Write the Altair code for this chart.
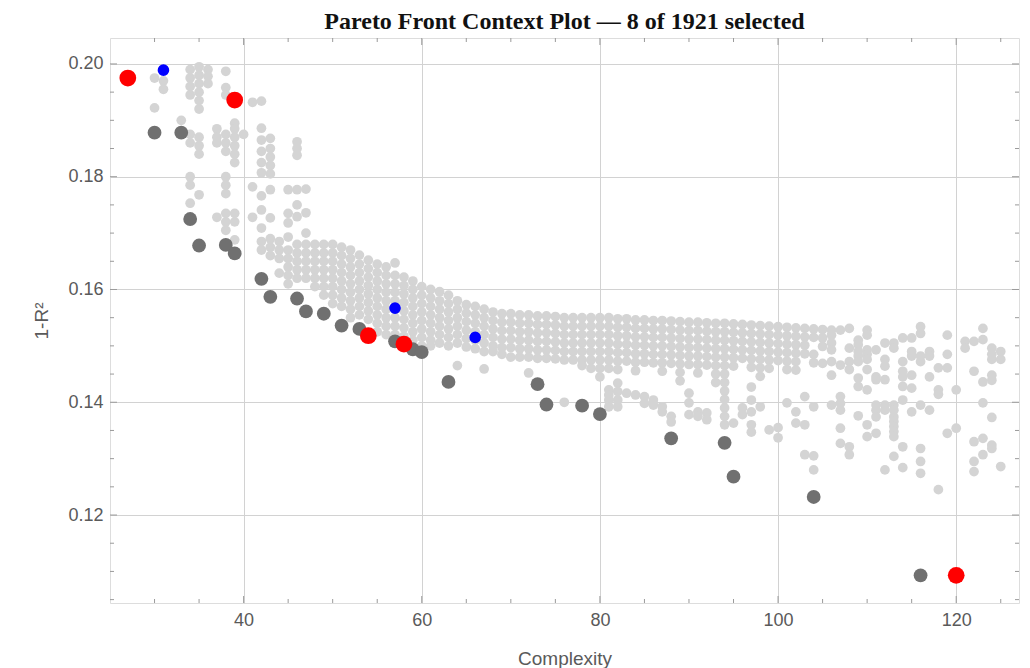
import altair as alt
import pandas as pd

TITLE = "Pareto Front Context Plot \u2014 8 of 1921 selected"

# ---- highlighted points ----
front_x = [30, 33, 34, 35, 38, 39, 42, 43, 46, 47, 49, 51, 53, 57, 59, 60, 63, 73, 74, 78, 80, 88, 94, 95, 104, 116]
front_y = [0.1878, 0.1878, 0.1725, 0.1678, 0.1679, 0.1664, 0.1619, 0.1587, 0.1584, 0.1561, 0.1557, 0.1536,
           0.1530, 0.1508, 0.1494, 0.1489, 0.1436, 0.1432, 0.1396, 0.1394, 0.1379, 0.1336, 0.1328, 0.1268,
           0.1232, 0.1093]
red_x = [27, 39, 54, 58, 120]
red_y = [0.1975, 0.1936, 0.1518, 0.1503, 0.1093]
blue_x = [31, 57, 66]
blue_y = [0.1989, 0.1567, 0.1515]

# ---- context cloud (complexity, list of 1-R^2 values) ----
cloud_left = [
    (30, [0.1975, 0.1922]),
    (31, [0.1970, 0.1955]),
    (33, [0.1900]),
    (34, [0.1990, 0.1975, 0.1960, 0.1945, 0.1875, 0.1860, 0.1800, 0.1785, 0.1753]),
    (35, [0.1995, 0.1980, 0.1965, 0.1950, 0.1935, 0.1920, 0.1870, 0.1855, 0.1840, 0.1768]),
    (36, [0.1990, 0.1978, 0.1965]),
    (37, [0.1885, 0.1870, 0.1860, 0.1728]),
    (38, [0.1987, 0.1958, 0.1945, 0.1875, 0.1860, 0.1845, 0.1800, 0.1785, 0.1770, 0.1735, 0.1720, 0.1705]),
    (39, [0.1895, 0.1885, 0.1870, 0.1855, 0.1840, 0.1825, 0.1735, 0.1720, 0.1688]),
    (40, [0.1875]),
    (41, [0.1932, 0.1782, 0.1728]),
    (42, [0.1934, 0.1886, 0.1865, 0.1845, 0.1825, 0.1807, 0.1766, 0.1741, 0.1709, 0.1685, 0.1670]),
    (43, [0.1868, 0.1850, 0.1835, 0.1820, 0.1805, 0.1777, 0.1727, 0.1690, 0.1675, 0.1660]),
    (44, [0.1685, 0.1670, 0.1655, 0.1629]),
    (45, [0.1777, 0.1735, 0.1718, 0.1693, 0.1670, 0.1655, 0.1640, 0.1625, 0.1610]),
    (46, [0.1862, 0.1850, 0.1838, 0.1777, 0.1750, 0.1729, 0.1680, 0.1665, 0.1650, 0.1635, 0.1620]),
    (47, [0.1778, 0.1736, 0.1700, 0.1680, 0.1665, 0.1650, 0.1635, 0.1620]),
    (48, [0.1680, 0.1665, 0.1650, 0.1635, 0.1620, 0.1605]),
    (49, [0.1680, 0.1665, 0.1650, 0.1635, 0.1620, 0.1605, 0.1590]),
    (50, [0.1680, 0.1665, 0.1650, 0.1635, 0.1620, 0.1605, 0.1590, 0.1575]),
    (51, [0.1675, 0.1660, 0.1645, 0.1630, 0.1615, 0.1600, 0.1585, 0.1570]),
    (52, [0.1670, 0.1655, 0.1640, 0.1625, 0.1610, 0.1595, 0.1580, 0.1565, 0.1550]),
    (53, [0.1661, 0.1645, 0.1630, 0.1615, 0.1600, 0.1585, 0.1570, 0.1555]),
    (54, [0.1652, 0.1637, 0.1622, 0.1607, 0.1592, 0.1577, 0.1562, 0.1547]),
    (55, [0.1645, 0.1630, 0.1615, 0.1600, 0.1585, 0.1570, 0.1555, 0.1540, 0.1525]),
    (56, [0.1640, 0.1625, 0.1610, 0.1595, 0.1580, 0.1565, 0.1550, 0.1535, 0.1520]),
    (57, [0.1647, 0.1625, 0.1610, 0.1595, 0.1580, 0.1565, 0.1550, 0.1535, 0.1520]),
    (58, [0.1622, 0.1607, 0.1592, 0.1577, 0.1562, 0.1547, 0.1532, 0.1517]),
    (59, [0.1615, 0.1600, 0.1585, 0.1570, 0.1555, 0.1540, 0.1525, 0.1510]),
]
cloud_mid = [
    (60, [0.1605, 0.1590, 0.1575, 0.1560, 0.1545, 0.1530, 0.1515, 0.1500]),
    (61, [0.1600, 0.1585, 0.1570, 0.1555, 0.1540, 0.1525, 0.1510, 0.1500]),
    (62, [0.1596, 0.1580, 0.1565, 0.1550, 0.1535, 0.1520, 0.1505]),
    (63, [0.1590, 0.1575, 0.1560, 0.1545, 0.1530, 0.1515, 0.1500]),
    (64, [0.1580, 0.1565, 0.1550, 0.1535, 0.1520, 0.1505, 0.1465]),
    (65, [0.1573, 0.1558, 0.1543, 0.1528, 0.1513, 0.1498]),
    (66, [0.1570, 0.1555, 0.1540, 0.1525, 0.1510, 0.1495]),
    (67, [0.1565, 0.1550, 0.1535, 0.1520, 0.1505, 0.1490, 0.1459]),
    (68, [0.1560, 0.1545, 0.1530, 0.1515, 0.1500, 0.1490]),
    (69, [0.1557, 0.1542, 0.1527, 0.1512, 0.1497, 0.1485]),
    (70, [0.1557, 0.1542, 0.1527, 0.1512, 0.1497, 0.1480]),
    (71, [0.1555, 0.1540, 0.1525, 0.1510, 0.1495, 0.1480]),
    (72, [0.1555, 0.1540, 0.1525, 0.1510, 0.1495, 0.1480, 0.1452]),
    (73, [0.1553, 0.1538, 0.1523, 0.1508, 0.1493, 0.1478]),
    (74, [0.1553, 0.1538, 0.1523, 0.1508, 0.1493, 0.1478]),
    (75, [0.1552, 0.1537, 0.1522, 0.1507, 0.1492, 0.1477]),
    (76, [0.1550, 0.1535, 0.1520, 0.1505, 0.1490, 0.1475, 0.1400]),
    (77, [0.1550, 0.1535, 0.1520, 0.1505, 0.1490, 0.1475]),
    (78, [0.1550, 0.1535, 0.1520, 0.1505, 0.1490, 0.1475, 0.1465]),
    (79, [0.1550, 0.1535, 0.1520, 0.1505, 0.1490, 0.1475, 0.1460]),
    (80, [0.1550, 0.1535, 0.1520, 0.1505, 0.1490, 0.1475, 0.1460, 0.1445]),
    (81, [0.1550, 0.1535, 0.1520, 0.1505, 0.1490, 0.1475, 0.1460, 0.1422, 0.1413, 0.1404, 0.1392]),
    (82, [0.1548, 0.1533, 0.1518, 0.1503, 0.1488, 0.1473, 0.1458, 0.1434, 0.1419, 0.1404, 0.1392]),
    (83, [0.1548, 0.1533, 0.1518, 0.1503, 0.1488, 0.1473, 0.1416]),
    (84, [0.1546, 0.1531, 0.1516, 0.1501, 0.1486, 0.1471, 0.1456, 0.1413]),
    (85, [0.1546, 0.1531, 0.1516, 0.1501, 0.1486, 0.1471, 0.1410, 0.1398]),
    (86, [0.1545, 0.1530, 0.1515, 0.1500, 0.1485, 0.1470, 0.1404, 0.1395]),
    (87, [0.1545, 0.1530, 0.1515, 0.1500, 0.1485, 0.1470, 0.1455, 0.1392, 0.1383]),
    (88, [0.1544, 0.1529, 0.1514, 0.1499, 0.1484, 0.1469, 0.1375, 0.1365]),
    (89, [0.1543, 0.1528, 0.1513, 0.1498, 0.1483, 0.1468, 0.1453, 0.1438]),
    (90, [0.1542, 0.1527, 0.1512, 0.1497, 0.1482, 0.1467, 0.1416, 0.1399, 0.1378]),
    (91, [0.1542, 0.1527, 0.1512, 0.1497, 0.1482, 0.1467, 0.1452, 0.1383, 0.1375]),
    (92, [0.1541, 0.1526, 0.1511, 0.1496, 0.1481, 0.1466, 0.1381, 0.1369]),
    (93, [0.1540, 0.1525, 0.1510, 0.1495, 0.1480, 0.1465, 0.1450, 0.1435]),
    (94, [0.1540, 0.1525, 0.1510, 0.1495, 0.1480, 0.1465, 0.1450, 0.1435, 0.1420, 0.1405, 0.1390, 0.1375, 0.1360]),
    (95, [0.1539, 0.1524, 0.1509, 0.1494, 0.1479, 0.1464, 0.1363]),
    (96, [0.1538, 0.1523, 0.1508, 0.1493, 0.1478, 0.1390, 0.1378]),
    (97, [0.1537, 0.1522, 0.1507, 0.1492, 0.1477, 0.1462, 0.1427, 0.1404, 0.1383, 0.1360, 0.1347]),
    (98, [0.1536, 0.1521, 0.1506, 0.1491, 0.1476, 0.1461, 0.1446, 0.1392]),
    (99, [0.1535, 0.1520, 0.1505, 0.1490, 0.1475, 0.1460, 0.1351]),
    (100, [0.1534, 0.1519, 0.1504, 0.1489, 0.1474, 0.1355, 0.1337]),
    (101, [0.1533, 0.1518, 0.1503, 0.1488, 0.1473, 0.1458, 0.1399]),
    (102, [0.1532, 0.1517, 0.1502, 0.1487, 0.1472, 0.1457, 0.1383, 0.1363]),
    (103, [0.1531, 0.1516, 0.1501, 0.1486, 0.1410, 0.1360, 0.1307]),
    (104, [0.1530, 0.1515, 0.1485, 0.1470, 0.1392, 0.1305, 0.1280]),
    (105, [0.1529, 0.1514, 0.1499, 0.1469]),
]
cloud_right = [
    (106, [0.1528, 0.1519, 0.1505, 0.1493, 0.1472, 0.1448, 0.1395]),
    (107, [0.1528, 0.1466, 0.1410, 0.1398, 0.1386, 0.1354, 0.1327]),
    (108, [0.1531, 0.1496, 0.1472, 0.1458, 0.1321, 0.1307]),
    (109, [0.1510, 0.1502, 0.1490, 0.1482, 0.1472, 0.1443, 0.1428, 0.1376]),
    (110, [0.1528, 0.1519, 0.1493, 0.1485, 0.1476, 0.1458, 0.1422, 0.1360, 0.1339]),
    (111, [0.1493, 0.1445, 0.1440, 0.1395, 0.1386, 0.1374, 0.1345]),
    (112, [0.1505, 0.1476, 0.1464, 0.1440, 0.1395, 0.1386, 0.1280]),
    (113, [0.1505, 0.1496, 0.1395, 0.1386, 0.1374, 0.1366, 0.1357, 0.1348, 0.1339, 0.1304]),
    (114, [0.1514, 0.1472, 0.1455, 0.1445, 0.1428, 0.1404, 0.1321, 0.1284]),
    (115, [0.1514, 0.1490, 0.1482, 0.1448, 0.1425, 0.1383]),
    (116, [0.1534, 0.1522, 0.1482, 0.1472, 0.1395, 0.1318, 0.1295, 0.1274]),
    (117, [0.1490, 0.1482, 0.1445, 0.1386]),
    (118, [0.1461, 0.1422, 0.1414, 0.1245]),
    (119, [0.1519, 0.1485, 0.1461, 0.1345]),
    (120, [0.1422, 0.1354]),
    (121, [0.1508, 0.1496]),
    (122, [0.1508, 0.1455, 0.1330, 0.1295, 0.1277]),
    (123, [0.1531, 0.1511, 0.1436, 0.1399, 0.1336, 0.1307]),
    (124, [0.1496, 0.1485, 0.1476, 0.1448, 0.1439, 0.1373, 0.1318, 0.1324]),
    (125, [0.1490, 0.1476, 0.1286]),
]

x_major = [40, 60, 80, 100, 120]
x_minor = [30, 35, 45, 50, 55, 65, 70, 75, 85, 90, 95, 105, 110, 115, 125]
y_major = [0.12, 0.14, 0.16, 0.18, 0.20]
y_minor = [0.105, 0.11, 0.115, 0.125, 0.13, 0.135, 0.145, 0.15, 0.155, 0.165, 0.17, 0.175, 0.185, 0.19, 0.195]

W, H = 909, 565
X_DOM = [25, 127.05]
Y_DOM = [0.1044, 0.2046]

rows = []
for group in (cloud_left, cloud_mid, cloud_right):
    for cx, ys in group:
        for cy in ys:
            rows.append({"x": cx, "y": cy})
cloud_df = pd.DataFrame(rows)
front_df = pd.DataFrame({"x": front_x, "y": front_y})
red_df = pd.DataFrame({"x": red_x, "y": red_y})
blue_df = pd.DataFrame({"x": blue_x, "y": blue_y})

xs = alt.Scale(domain=X_DOM, nice=False, zero=False)
ys_ = alt.Scale(domain=Y_DOM, nice=False, zero=False)

x_axis = alt.Axis(values=x_major, grid=True, gridColor="#d2d2d2", gridWidth=1, ticks=False, domain=False,
                  labelFont="Liberation Sans", labelFontSize=18, labelColor="#5a5a5a", labelPadding=8,
                  title="Complexity", titleFont="Liberation Sans", titleFontSize=19, titleFontWeight="normal",
                  titleColor="#5a5a5a", titleBaseline="alphabetic", titleY=61)
y_axis = alt.Axis(values=y_major, format=".2f", grid=True, gridColor="#d2d2d2", gridWidth=1, ticks=False,
                  domain=False, labelFont="Liberation Sans", labelFontSize=18, labelColor="#5a5a5a",
                  labelPadding=7, title="1-R\u00b2", titleFont="Liberation Sans", titleFontSize=19,
                  titleFontWeight="normal", titleColor="#5a5a5a", titleBaseline="alphabetic", titleX=-63,
                  titleY=H / 2, titleAngle=270)

base_x = alt.X("x:Q", scale=xs, axis=x_axis)
base_y = alt.Y("y:Q", scale=ys_, axis=y_axis)

cloud = alt.Chart(cloud_df).mark_circle(size=95, color="#d4d4d4", opacity=1).encode(x=base_x, y=base_y)
front = alt.Chart(front_df).mark_circle(size=190, color="#707070", opacity=1).encode(x="x:Q", y="y:Q")
blue = alt.Chart(blue_df).mark_circle(size=135, color="#0000ff", opacity=1).encode(x="x:Q", y="y:Q")
red = alt.Chart(red_df).mark_circle(size=280, color="#ff0000", opacity=1).encode(x="x:Q", y="y:Q")

tick_color = "#9a9a9a"
def xticks(vals, length):
    d = pd.DataFrame({"x": vals})
    b = alt.Chart(d).mark_rule(color=tick_color, strokeWidth=1).encode(
        x="x:Q", y=alt.value(H), y2=alt.value(H - length))
    t = alt.Chart(d).mark_rule(color=tick_color, strokeWidth=1).encode(
        x="x:Q", y=alt.value(0), y2=alt.value(length))
    return b + t

def yticks(vals, length):
    d = pd.DataFrame({"y": vals})
    l = alt.Chart(d).mark_rule(color=tick_color, strokeWidth=1).encode(
        y="y:Q", x=alt.value(0), x2=alt.value(length))
    r = alt.Chart(d).mark_rule(color=tick_color, strokeWidth=1).encode(
        y="y:Q", x=alt.value(W), x2=alt.value(W - length))
    return l + r

chart = alt.layer(
    cloud, xticks(x_major, 7), xticks(x_minor, 4), yticks(y_major, 7), yticks(y_minor, 4),
    front, blue, red,
).properties(
    width=W, height=H,
    title=alt.TitleParams(TITLE, font="Liberation Serif", fontSize=24, fontWeight="bold", color="#111111",
                          anchor="middle", baseline="alphabetic", offset=-15, frame="group"),
    autosize=alt.AutoSizeParams(type="none"),
    padding={"left": 110, "top": 38, "right": 11, "bottom": 65},
).configure_view(stroke="#a0a0a0", strokeWidth=1).configure(background="white")

chart.save("out.html", embed_options={"renderer": "svg", "actions": False})
